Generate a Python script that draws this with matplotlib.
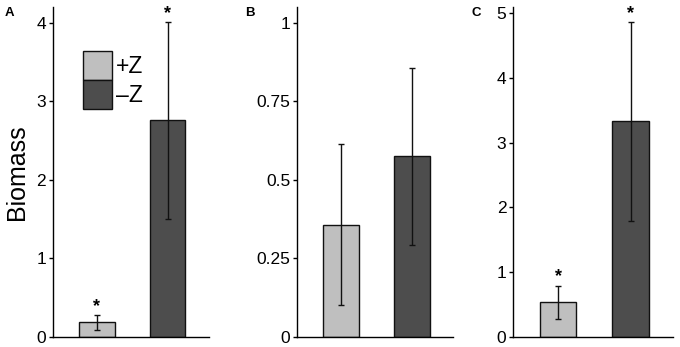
import matplotlib
matplotlib.use("Agg")
import matplotlib.pyplot as plt
from matplotlib.ticker import FuncFormatter

plt.rcParams["font.family"] = ["Liberation Sans", "DejaVu Sans"]

treatments = ["+Z", "\u2013Z"]
bar_colors = ["#bfbfbf", "#4d4d4d"]

panel_labels = ["A", "B", "C"]
means_a = [0.18, 2.76]
lower_a = [0.08, 1.50]
upper_a = [0.27, 4.01]
stars_a = [True, True]

means_b = [0.355, 0.575]
lower_b = [0.10, 0.292]
upper_b = [0.612, 0.857]
stars_b = [False, False]

means_c = [0.53, 3.33]
lower_c = [0.27, 1.79]
upper_c = [0.79, 4.87]
stars_c = [True, True]

yticks_a = [0, 1, 2, 3, 4]
yticks_b = [0, 0.25, 0.5, 0.75, 1]
yticks_c = [0, 1, 2, 3, 4, 5]
ylims = [4.2, 1.05, 5.1]

panels = [
    (means_a, lower_a, upper_a, stars_a, yticks_a),
    (means_b, lower_b, upper_b, stars_b, yticks_b),
    (means_c, lower_c, upper_c, stars_c, yticks_c),
]

fig = plt.figure(figsize=(6.8, 3.47), dpi=100)
lefts = [0.078, 0.437, 0.755]
widths = [0.229, 0.229, 0.234]
label_x = [0.007, 0.361, 0.693]

for i, (means, lo, hi, stars, yticks) in enumerate(panels):
    ax = fig.add_axes([lefts[i], 0.030, widths[i], 0.950])
    x = [0, 1]
    err = [[m - l for m, l in zip(means, lo)], [h - m for m, h in zip(means, hi)]]
    bars = ax.bar(x, means, width=0.5, color=bar_colors, edgecolor="#111111",
                  linewidth=1.0)
    ax.errorbar(x, means, yerr=err, fmt="none", ecolor="#111111",
                elinewidth=1.0, capsize=2.5, capthick=1.0)
    for xi, h, s in zip(x, hi, stars):
        if s:
            ax.annotate("*", (xi, h), xytext=(0, 0), textcoords="offset points",
                        ha="center", va="bottom", fontsize=13, fontweight="bold")
    ax.set_xlim(-0.62, 1.58)
    ax.set_ylim(0, ylims[i])
    ax.set_yticks(yticks)
    ax.yaxis.set_major_formatter(FuncFormatter(lambda v, p: f"{v:g}"))
    ax.set_xticks([])
    ax.spines["top"].set_visible(False)
    ax.spines["right"].set_visible(False)
    ax.spines["left"].set_linewidth(1.0)
    ax.spines["bottom"].set_linewidth(1.0)
    ax.tick_params(axis="y", direction="out", length=3, width=1.0,
                   labelsize=12.5, pad=2)
    fig.text(label_x[i], 0.962, panel_labels[i], fontsize=9.5, fontweight="bold",
             ha="left", va="center")
    if i == 0:
        ax.set_ylabel("Biomass", fontsize=18, labelpad=5)
        handles = [bars[0], bars[1]]
        ax.legend(handles, treatments, loc="upper left",
                  bbox_to_anchor=(0.19, 0.867), frameon=False, fontsize=16.5,
                  handlelength=1.3, handleheight=1.57, labelspacing=0,
                  handletextpad=0.15, borderpad=0, borderaxespad=0)

fig.savefig("out.png", dpi=100)
